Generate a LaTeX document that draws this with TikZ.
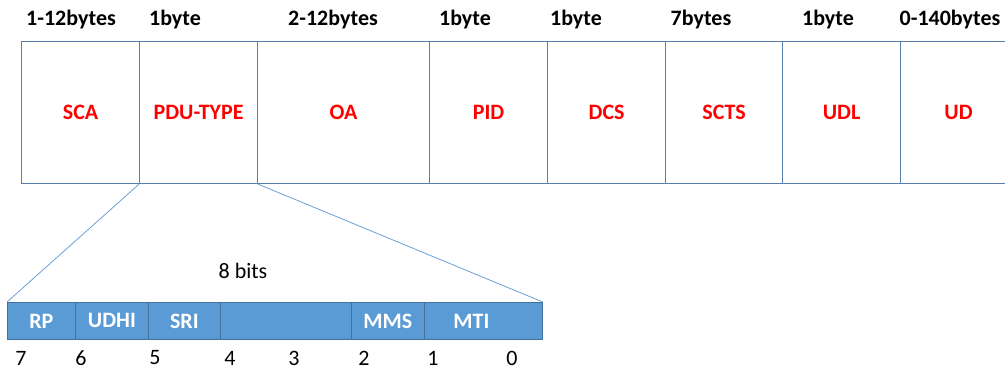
\documentclass[tikz,border=0pt]{standalone}
\usepackage{fontspec}
\setmainfont{Carlito}
\usetikzlibrary{positioning}
\definecolor{fieldline}{RGB}{88,126,172}
\definecolor{bitfill}{RGB}{91,155,213}
\definecolor{bitline}{RGB}{65,113,156}
\definecolor{zoomblue}{RGB}{105,160,215}

\begin{document}
\begin{tikzpicture}[x=1pt, y=-1pt,
	every node/.style={font=\fontsize{22}{26}\selectfont, inner sep=0pt},
	field/.style={draw=fieldline, line width=1.2pt, anchor=north west, minimum height=142pt, text=red, font=\fontsize{22}{26}\selectfont\bfseries},
	size/.style={font=\fontsize{22}{26}\selectfont\bfseries},
	bit/.style={draw=bitline, fill=bitfill, line width=0.8pt, anchor=north west, minimum height=37pt, text=white, font=\fontsize{22}{26}\selectfont\bfseries},
	zoom/.style={draw=zoomblue, line width=0.8pt}]
	\useasboundingbox (0,0) rectangle (1005,369);
	\clip (0,0) rectangle (1005,369);

	% the SMS-DELIVER fields
	\foreach \name/\txt/\xl/\w in {sca/SCA/21/118, pdu/PDU-TYPE/139/118, oa/OA/257/172, pid/PID/429/118, dcs/DCS/547/118, scts/SCTS/665/117, udl/UDL/782/118, ud/UD/900/116}
		\node[field, minimum width=\w pt] (\name) at (\xl,41) {\txt};
	\foreach \x/\txt [count=\i] in {71/1-12bytes, 175/1byte, 333/2-12bytes, 465/1byte, 576/1byte, 701/7bytes, 828/1byte, 950/0-140bytes}
		\node[size] (len\i) at (\x,20) {\txt};

	% the PDU-TYPE octet
	\foreach \name/\txt/\xl/\w in {rp/RP/7/68, udhi/UDHI/75/73, sri/SRI/148/72, free//220/131, mms/MMS/351/73, mti/\hspace*{-24pt}MTI/424/118}
		\node[bit, minimum width=\w pt] (bit-\name) at (\xl,302) {\txt};
	\node (bits) at (243,271) {8 bits};
	\foreach \x/\n in {21/7, 81/6, 155/5, 230/4, 294/3, 364/2, 433/1, 512/0}
		\node (num\n) at (\x,358) {\n};

	\draw[zoom] (pdu.south west) -- (bit-rp.north west);
	\draw[zoom] (pdu.south east) -- (bit-mti.north east);
\end{tikzpicture}
\end{document}
